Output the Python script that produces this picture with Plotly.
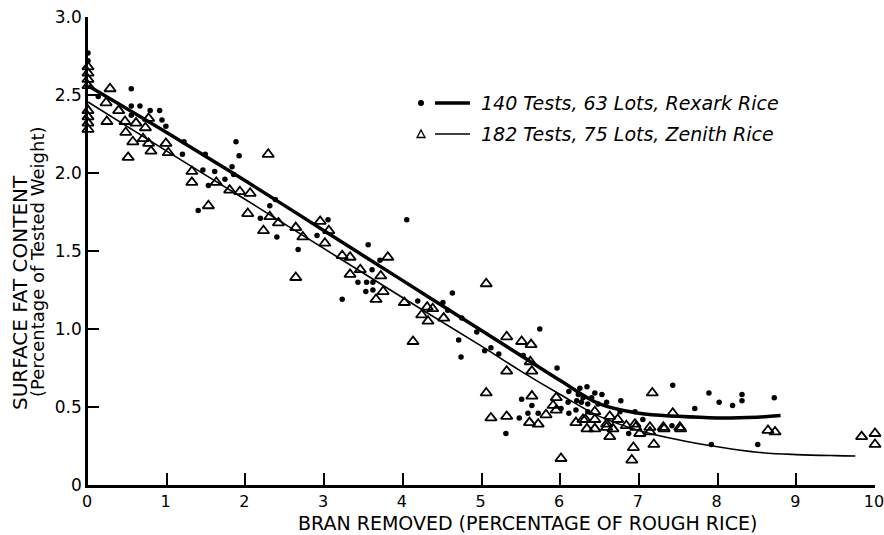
import plotly.graph_objects as go

# ---- data ----
rexark_x = [0, 0, 0.13, 0.55, 0.55, 0.66, 0.79, 0.91, 0.55, 0.94, 0.99, 1.20, 1.22, 1.49, 1.46, 1.53,
            1.61, 1.74, 1.83, 1.85, 1.88, 1.92, 1.40, 2.19, 2.31, 2.38, 2.40, 2.67, 2.91, 3.05, 3.23,
            3.56, 3.71, 3.61, 3.43, 3.54, 3.62, 3.53, 3.62, 4.05, 4.19, 4.51, 4.57, 4.63, 4.75, 4.94,
            4.71, 5.74, 5.12, 4.74, 5.04, 5.22, 5.31, 5.53, 5.51, 5.64, 5.48, 5.59, 5.72, 5.96, 6.01,
            6.11, 6.11, 6.20, 6.25, 6.34, 6.44, 6.53, 6.23, 6.29, 6.40, 6.21, 6.27, 6.35, 6.48, 6.59,
            6.10, 6.77, 6.35, 6.76, 6.95, 7.05, 7.42, 7.43, 7.71, 7.89, 6.87, 7.92, 8.02, 8.19, 8.31,
            8.31, 8.51, 8.72]
rexark_y = [2.77, 2.72, 2.49, 2.54, 2.43, 2.43, 2.40, 2.40, 2.37, 2.34, 2.30, 2.12, 2.20, 2.12, 2.02, 1.92,
            2.01, 1.96, 2.04, 1.99, 2.20, 2.11, 1.76, 1.71, 1.79, 1.83, 1.59, 1.51, 1.60, 1.70, 1.19,
            1.54, 1.44, 1.38, 1.30, 1.30, 1.30, 1.24, 1.25, 1.70, 1.18, 1.17, 1.12, 1.23, 1.07, 0.98,
            0.93, 1.00, 0.88, 0.82, 0.86, 0.84, 0.33, 0.83, 0.55, 0.51, 0.43, 0.46, 0.46, 0.75, 0.49,
            0.60, 0.46, 0.48, 0.62, 0.63, 0.59, 0.58, 0.58, 0.56, 0.56, 0.54, 0.53, 0.52, 0.52, 0.53,
            0.53, 0.54, 0.47, 0.47, 0.47, 0.42, 0.38, 0.64, 0.49, 0.59, 0.33, 0.26, 0.53, 0.51, 0.58,
            0.54, 0.26, 0.56]

zenith_x = [0, 0, 0, 0, 0, 0, 0, 0, 0.28, 0.23, 0.24, 0.39, 0.47, 0.48, 0.61, 0.73, 0.77, 0.57, 0.51,
            0.70, 0.77, 0.80, 0.99, 1.02, 1.32, 1.32, 1.63, 1.80, 1.93, 2.06, 2.29, 1.53, 2.03, 2.23,
            2.31, 2.42, 2.64, 2.73, 2.95, 3.06, 3.01, 2.64, 3.23, 3.33, 3.81, 3.46, 3.33, 3.72, 3.75,
            3.66, 4.02, 4.31, 4.38, 4.24, 4.32, 4.52, 5.06, 4.13, 5.32, 5.51, 5.63, 5.32, 5.06, 5.12,
            5.32, 5.62, 5.64, 5.64, 5.61, 5.72, 5.82, 5.91, 5.95, 5.95, 6.01, 6.20, 6.32, 6.34, 6.44,
            6.44, 6.44, 6.29, 6.63, 6.59, 6.73, 6.84, 6.95, 7.14, 7.31, 7.52, 7.17, 7.43, 6.59, 6.67,
            6.63, 6.96, 7.01, 6.93, 6.91, 7.14, 7.19, 7.32, 7.53, 8.64, 8.73, 9.83, 10.0, 10.0]
zenith_y = [2.68, 2.64, 2.60, 2.56, 2.40, 2.36, 2.32, 2.28, 2.54, 2.45, 2.33, 2.40, 2.33, 2.26, 2.32,
            2.29, 2.35, 2.20, 2.10, 2.22, 2.19, 2.14, 2.19, 2.13, 2.01, 1.94, 1.94, 1.89, 1.88, 1.87,
            2.12, 1.79, 1.74, 1.63, 1.72, 1.68, 1.65, 1.59, 1.69, 1.63, 1.55, 1.33, 1.47, 1.46, 1.46,
            1.38, 1.35, 1.34, 1.24, 1.19, 1.17, 1.14, 1.13, 1.09, 1.05, 1.07, 1.29, 0.92, 0.95, 0.92,
            0.90, 0.73, 0.59, 0.43, 0.44, 0.79, 0.73, 0.57, 0.40, 0.39, 0.45, 0.51, 0.56, 0.48, 0.17,
            0.40, 0.42, 0.36, 0.42, 0.36, 0.47, 0.42, 0.44, 0.39, 0.42, 0.38, 0.39, 0.37, 0.37, 0.37,
            0.59, 0.46, 0.37, 0.36, 0.31, 0.37, 0.33, 0.24, 0.16, 0.34, 0.26, 0.36, 0.36, 0.35, 0.34,
            0.31, 0.33, 0.26]

rexark_fit_x = [0, 1, 2, 3, 4, 5, 5.5, 6, 6.5, 7, 7.5, 8, 8.5, 8.8]
rexark_fit_y = [2.56, 2.26, 1.95, 1.63, 1.31, 0.99, 0.83, 0.67, 0.52, 0.46, 0.44, 0.43, 0.435, 0.445]

zenith_fit_x = [0, 1, 2, 3, 4, 5, 5.5, 6, 6.5, 7, 7.5, 8, 8.5, 9, 9.5, 9.75]
zenith_fit_y = [2.455, 2.14, 1.83, 1.515, 1.20, 0.89, 0.73, 0.58, 0.44, 0.35, 0.29, 0.245, 0.21, 0.195,
                0.188, 0.186]

x_ticks = [0, 1, 2, 3, 4, 5, 6, 7, 8, 9, 10]
x_ticklabels = ["0", "1", "2", "3", "4", "5", "6", "7", "8", "9", "10"]
y_ticks = [0, 0.5, 1.0, 1.5, 2.0, 2.5, 3.0]
y_ticklabels = ["0", "0.5", "1.0", "1.5", "2.0", "2.5", "3.0"]

legend_labels = ["140 Tests, 63 Lots, Rexark Rice", "182 Tests, 75 Lots, Zenith Rice"]

FONT = "DejaVu Sans"

fig = go.Figure()
fig.add_trace(go.Scatter(x=rexark_fit_x, y=rexark_fit_y, mode="lines", line=dict(color="black", width=3.5, shape="spline"),
                         showlegend=False, cliponaxis=False))
fig.add_trace(go.Scatter(x=zenith_fit_x, y=zenith_fit_y, mode="lines", line=dict(color="black", width=1.6, shape="spline"),
                         showlegend=False, cliponaxis=False))
fig.add_trace(go.Scatter(x=zenith_x, y=zenith_y, mode="markers",
                         marker=dict(symbol="triangle-up-open", size=10, color="black", line=dict(width=1.8, color="black")),
                         showlegend=False, cliponaxis=False))
fig.add_trace(go.Scatter(x=rexark_x, y=rexark_y, mode="markers",
                         marker=dict(symbol="circle", size=5.5, color="black"),
                         showlegend=False, cliponaxis=False))

W, H = 884, 535
L, R, T, B = 88, 9, 17, 50
pw, ph = W - L - R, H - T - B   # 787 x 468

# helpers: window pixel -> paper coordinate (legend / title placement only)
def px(xp):
    return (xp - L) / pw

def py(yp):
    return (H - B - yp) / ph

rows = [103, 134]
shapes = []
shapes.append(dict(type="circle", xref="paper", yref="paper",
                   x0=px(418), x1=px(424), y0=py(rows[0] + 3), y1=py(rows[0] - 3),
                   fillcolor="black", line=dict(width=0)))
tx, ty = 421, rows[1]
shapes.append(dict(type="path", xref="paper", yref="paper",
                   path=f"M {px(tx-4)} {py(ty+3.5)} L {px(tx+4)} {py(ty+3.5)} L {px(tx)} {py(ty-4)} Z",
                   line=dict(color="black", width=1.3), fillcolor="white"))
shapes.append(dict(type="line", xref="paper", yref="paper", x0=px(435), x1=px(470), y0=py(rows[0]), y1=py(rows[0]),
                   line=dict(color="black", width=3.5)))
shapes.append(dict(type="line", xref="paper", yref="paper", x0=px(435), x1=px(470), y0=py(rows[1]), y1=py(rows[1]),
                   line=dict(color="black", width=1.6)))

annotations = []
for lab, r in zip(legend_labels, rows):
    annotations.append(dict(text=f"<i>{lab}</i>", xref="paper", yref="paper", x=px(479), y=py(r),
                            xanchor="left", yanchor="middle", showarrow=False,
                            font=dict(family=FONT, size=19, color="black")))

annotations.append(dict(text="BRAN REMOVED (PERCENTAGE OF ROUGH RICE)", xref="paper", yref="paper",
                        x=px(527), y=py(523), xanchor="center", yanchor="middle", showarrow=False,
                        font=dict(family=FONT, size=19, color="black")))
annotations.append(dict(text="SURFACE FAT CONTENT", xref="paper", yref="paper", textangle=-90,
                        x=px(20), y=py(293), xanchor="center", yanchor="middle", showarrow=False,
                        font=dict(family=FONT, size=20, color="black")))
annotations.append(dict(text="(Percentage of Tested Weight)", xref="paper", yref="paper", textangle=-90,
                        x=px(37), y=py(262), xanchor="center", yanchor="middle", showarrow=False,
                        font=dict(family=FONT, size=18, color="black")))

fig.update_layout(
    width=W, height=H,
    margin=dict(l=L, r=R, t=T, b=B, pad=0, autoexpand=False),
    paper_bgcolor="white", plot_bgcolor="white",
    showlegend=False,
    shapes=shapes, annotations=annotations,
    xaxis=dict(range=[0, 10], tickvals=x_ticks, ticktext=x_ticklabels, ticks="inside", ticklen=12,
               tickwidth=2, tickcolor="black", showline=True, linecolor="black", linewidth=2.5,
               showgrid=False, zeroline=False, ticklabeloverflow="allow", automargin=False,
               ticklabelshift=-1,
               tickfont=dict(family=FONT, size=16, color="black")),
    yaxis=dict(range=[0, 3], tickvals=y_ticks, ticktext=y_ticklabels, ticks="inside", ticklen=11,
               tickwidth=2, tickcolor="black", showline=True, linecolor="black", linewidth=2.5,
               showgrid=False, zeroline=False, ticklabeloverflow="allow", automargin=False,
               tickfont=dict(family=FONT, size=17, color="black")),
)

# remove the default 8px page margin so the figure sits at the window's top-left corner
fig.write_html("out.html", config={"displayModeBar": False},
               post_script="document.body.style.margin='0';document.documentElement.style.overflow='hidden';")
